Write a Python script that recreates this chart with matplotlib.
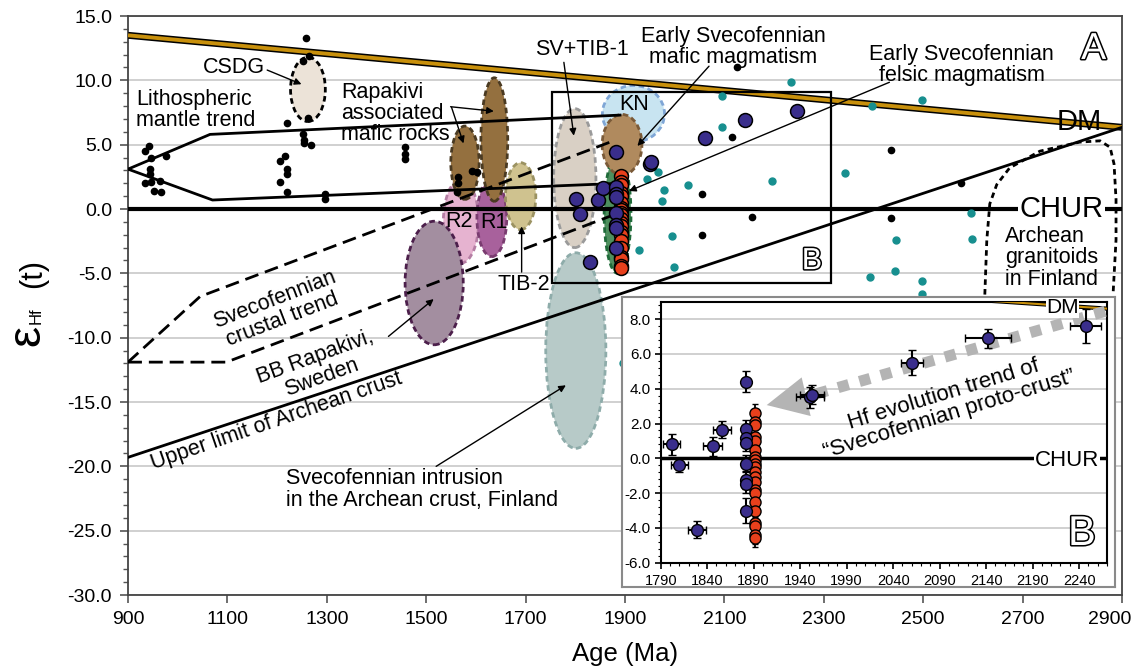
import matplotlib
matplotlib.use("Agg")
import matplotlib.pyplot as plt
import matplotlib.patheffects as pe
from matplotlib.patches import Ellipse, Polygon, Rectangle
from matplotlib.ticker import MultipleLocator, FormatStrFormatter
import numpy as np

plt.rcParams['font.family'] = ['Liberation Sans', 'DejaVu Sans']
plt.rcParams['axes.unicode_minus'] = False

# ---- reference evolution lines (age Ma, eHf) ----
dm_age = [900, 2900]
dm_eps = [13.5, 6.35]
chur_age = [900, 2900]
chur_eps = [0.0, 0.0]
archean_age = [900, 2900]
archean_eps = [-19.3, 6.35]
lith_upper_age = [900, 1065, 1890]
lith_upper_eps = [3.1, 5.8, 7.3]
lith_lower_age = [900, 1070, 1890]
lith_lower_eps = [3.1, 0.7, 2.0]
svf_upper_age = [900, 1045, 1870]
svf_upper_eps = [-11.9, -6.8, 5.2]
svf_lower_age = [900, 1098, 1874]
svf_lower_eps = [-11.9, -11.9, -0.5]
granitoid_age = [2624, 2628, 2634, 2648, 2674, 2735, 2815, 2856, 2876, 2884, 2888, 2888, 2882]
granitoid_eps = [-6.65, -2.4, 0.4, 1.9, 3.2, 4.5, 5.2, 5.3, 4.8, 3.5, 0.75, -2.4, -6.65]

# ---- fields (centre age, centre eHf, age span, eHf span) ----
field_names = ['KN', 'SV+TIB-1', 'Intrusion', 'R2', 'R1', 'TIB-2', 'BB', 'RapA', 'RapB',
               'ESfelsic', 'ESmafic', 'CSDG']
field_age = [1917, 1799, 1801, 1570, 1632, 1690, 1516, 1578, 1637, 1885, 1894, 1262]
field_eps = [7.4, 2.4, -11.0, -0.95, -0.7, 1.0, -5.75, 3.6, 5.4, -0.4, 5.0, 9.3]
field_w = [125, 85, 121, 71, 60, 61, 117, 57, 54, 54, 80, 70]
field_h = [4.4, 10.8, 15.2, 6.5, 6.0, 5.2, 9.6, 5.7, 9.6, 9.2, 4.7, 5.0]

# ---- scatter data ----
black_age = [942, 934, 946, 977, 944, 944, 934, 946, 965, 952, 967,
             1219, 1216, 1206, 1219, 1219, 1206, 1219,
             1259, 1253, 1265, 1263, 1253, 1255, 1255, 1269,
             1297, 1297, 1458, 1458, 1458,
             1564, 1564, 1562, 1592, 1602,
             2126, 2116, 2055, 2156, 2055, 2436, 2436, 2577]
black_eps = [4.9, 4.5, 4.0, 4.1, 3.1, 2.7, 2.0, 2.1, 2.2, 1.4, 1.3,
             6.7, 4.1, 3.7, 3.1, 2.7, 2.1, 1.3,
             13.3, 11.5, 11.9, 7.1, 5.8, 5.4, 5.1, 5.0,
             1.2, 0.8, 4.8, 4.3, 3.9,
             2.45, 2.05, 1.3, 2.95, 2.9,
             11.0, 5.6, 1.2, -0.6, -2.0, 4.6, -0.7, 2.0]
teal_age = [2235, 2096, 2096, 2396, 2497, 2342, 2196, 2597, 2599, 2446, 2444, 2392,
            2497, 2497, 1966, 1944, 1978, 1974, 2027, 1995, 1928, 1999, 1895]
teal_eps = [9.9, 8.8, 6.4, 8.0, 8.5, 2.8, 2.2, -0.3, -2.3, -2.4, -4.8, -5.3,
            -5.6, -6.6, 2.9, 2.3, 1.5, 0.6, 1.9, -2.1, -3.2, -4.5, -12.0]
navy_age = [1802, 1810, 1829, 1846, 1856, 1882, 1882, 1882, 1882, 1882, 1882, 1882, 1882,
            1951, 1953, 2060, 2142, 2247]
navy_eps = [0.8, -0.4, -4.1, 0.7, 1.65, 4.4, 1.7, 1.15, 0.9, -0.3, -1.25, -1.5, -3.0,
            3.5, 3.65, 5.5, 6.9, 7.6]
navy_xerr = [9, 9, 10, 10, 10, 3, 3, 3, 3, 3, 3, 3, 3, 15, 13, 12, 25, 17]
navy_yerr = [0.6, 0.4, 0.5, 0.55, 0.5, 0.6, 0.5, 0.5, 0.5, 0.5, 0.5, 0.5, 0.7,
             0.6, 0.55, 0.7, 0.55, 1.0]
red_eps = [2.6, 2.1, 1.9, 1.25, 1.0, 0.5, 0.1, -0.1, -0.3, -0.5, -0.8, -1.05, -1.35,
           -1.8, -2.0, -2.5, -3.0, -3.7, -3.9, -4.4, -4.6]
red_age = [1891] * len(red_eps)

# proto-crust trend arrow in inset (tail, tip, head corners)
trend_tail = (2268, 8.45)
trend_base = (1946.5, 3.54)
trend_head_age = [1904, 1941.6, 1951.3]
trend_head_eps = [3.06, 4.65, 2.43]

field_style = {
    'KN': ('#c8e4f1', '#7fa6d6'),
    'SV+TIB-1': ('#d9d0c5', '#9a9a9a'),
    'Intrusion': ('#b7cac8', '#8eacaa'),
    'R2': ('#e6b3d0', '#b57ea4'),
    'R1': ('#a8619c', '#7a3c70'),
    'TIB-2': ('#cfc28f', '#9b9262'),
    'BB': ('#a38ea0', '#4c1f4b'),
    'RapA': ('#94703f', '#4a3a22'),
    'RapB': ('#94703f', '#4a3a22'),
    'ESfelsic': ('#4e8f5e', '#1f6b3a'),
    'ESmafic': ('#b08a5e', '#7a5a38'),
    'CSDG': ('#ece3d8', '#000000'),
}

FS = 15.5
fig = plt.figure(figsize=(11.37, 6.70), dpi=100)
ax = fig.add_axes([0.1126, 0.1119, 0.8742, 0.8642])
ax.set_xlim(900, 2900)
ax.set_ylim(-30, 15)
xt = np.arange(900, 2901, 200)
ax.set_xticks(xt)
ax.set_xticklabels([str(v) for v in xt[:-1]] + [''])
ax.yaxis.set_major_locator(MultipleLocator(5))
ax.yaxis.set_minor_locator(MultipleLocator(1))
ax.yaxis.set_major_formatter(FormatStrFormatter('%.1f'))
ax.grid(axis='y', color='#c8c8c8', lw=1.2)
ax.set_axisbelow(True)
ax.tick_params(labelsize=14, length=5.5, width=1.2, color='#555555', pad=6)
ax.tick_params(which='minor', length=3.5, width=1.0, color='#555555')
for s in ax.spines.values():
    s.set_color('#444444')
    s.set_linewidth(1.3)
ax.set_xlabel('Age (Ma)', fontsize=18.5, labelpad=10)
# last tick label sits a little inside the figure edge
ax.annotate(str(xt[-1]), xy=(xt[-1], 0), xycoords=('data', 'axes fraction'),
            xytext=(-9, -11.5), textcoords='offset points', ha='center', va='top',
            fontsize=14, annotation_clip=False)

# fields
for n, a, e, w, h in zip(field_names, field_age, field_eps, field_w, field_h):
    fc, ec = field_style[n]
    ax.add_patch(Ellipse((a, e), w, h, facecolor=fc, edgecolor=ec, lw=2,
                         ls=(0, (2, 1.3)), zorder=2))

# lines
ax.plot(dm_age, dm_eps, color='black', lw=5, solid_capstyle='butt', zorder=3)
ax.plot(dm_age, dm_eps, color='#c8900c', lw=2.8, solid_capstyle='butt', zorder=3)
ax.plot(chur_age, chur_eps, color='black', lw=3, zorder=3)
ax.plot(archean_age, archean_eps, color='black', lw=2, zorder=3)
ax.plot(lith_upper_age, lith_upper_eps, color='black', lw=2, zorder=3)
ax.plot(lith_lower_age, lith_lower_eps, color='black', lw=2, zorder=3)
ax.plot(svf_upper_age, svf_upper_eps, color='black', lw=2, ls=(0, (5, 2.5)), zorder=3)
ax.plot(svf_lower_age, svf_lower_eps, color='black', lw=2, ls=(0, (5, 2.5)), zorder=3)
ax.plot(granitoid_age, granitoid_eps, color='black', lw=2, ls=(0, (2, 1.5)), zorder=3)

# box B
ax.add_patch(Rectangle((1753, -5.75), 2315 - 1753, 9.1 + 5.75, fill=False,
                       ec='black', lw=1.6, zorder=4))

# points
ax.plot(black_age, black_eps, 'o', ms=4.5, color='black', ls='none', zorder=5)
ax.plot(teal_age, teal_eps, 'o', ms=5, color='#178f8f', ls='none', zorder=5)
ax.plot(red_age, red_eps, 'o', ms=10, mfc='#e8401c', mec='black', mew=1.1, ls='none', zorder=6)
ax.plot(navy_age, navy_eps, 'o', ms=10, mfc='#3a2e8c', mec='black', mew=1.1, ls='none', zorder=7)

# labels and arrows
arr = dict(arrowstyle='-|>', color='black', lw=1, mutation_scale=10, shrinkA=0, shrinkB=0)
ax.text(1114, 11.0, 'CSDG', fontsize=FS, ha='center', va='center', zorder=8)
ax.annotate('', xy=(1249, 9.7), xytext=(1180, 10.8), arrowprops=arr, zorder=8)
ax.text(917, 7.7, 'Lithospheric\nmantle trend', fontsize=FS, ha='left', va='center',
        linespacing=1.0, zorder=8)
ax.text(1329, 7.45, 'Rapakivi\nassociated\nmafic rocks', fontsize=FS, ha='left',
        va='center', linespacing=1.0, zorder=8)
ax.annotate('', xy=(1636, 7.6), xytext=(1549, 7.95), arrowprops=arr, zorder=8)
ax.annotate('', xy=(1575, 5.1), xytext=(1551, 7.9), arrowprops=arr, zorder=8)
ax.text(1813, 12.4, 'SV+TIB-1', fontsize=FS, ha='center', va='center', zorder=8)
ax.annotate('', xy=(1797, 5.7), xytext=(1777, 11.4), arrowprops=arr, zorder=8)
ax.text(2118, 12.6, 'Early Svecofennian\nmafic magmatism', fontsize=FS, ha='center',
        va='center', linespacing=1.0, zorder=8)
ax.annotate('', xy=(1925, 4.9), xytext=(2069, 11.1), arrowprops=arr, zorder=8)
ax.text(2577, 11.2, 'Early Svecofennian\nfelsic magmatism', fontsize=FS, ha='center',
        va='center', linespacing=1.0, zorder=8)
ax.annotate('', xy=(1908, 1.4), xytext=(2432, 9.85), arrowprops=arr, zorder=8)
ax.text(1918, 8.1, 'KN', fontsize=FS, ha='center', va='center', zorder=8)
ax.text(1565, -1.0, 'R2', fontsize=FS, ha='center', va='center', zorder=8)
ax.text(1636, -1.05, 'R1', fontsize=FS, ha='center', va='center', zorder=8)
ax.text(1696, -5.9, 'TIB-2', fontsize=FS, ha='center', va='center', zorder=8)
ax.annotate('', xy=(1692, -1.35), xytext=(1692, -4.9), arrowprops=arr, zorder=8)
ax.text(1202, -7.8, 'Svecofennian\ncrustal trend', fontsize=FS, ha='center', va='center',
        rotation=21, rotation_mode='anchor', linespacing=1.0, zorder=8)
ax.text(1283, -12.3, 'BB Rapakivi,\nSweden', fontsize=FS, ha='center', va='center',
        rotation=20, rotation_mode='anchor', linespacing=1.0, zorder=8)
ax.annotate('', xy=(1515, -7.0), xytext=(1424, -9.9), arrowprops=arr, zorder=8)
ax.text(1198, -16.5, 'Upper limit of Archean crust', fontsize=FS, ha='center',
        va='center', rotation=19, rotation_mode='anchor', zorder=8)
ax.text(1217, -21.8, 'Svecofennian intrusion\nin the Archean crust, Finland', fontsize=FS,
        ha='left', va='center', linespacing=1.05, zorder=8)
ax.annotate('', xy=(1781, -13.7), xytext=(1520, -20.0), arrowprops=arr, zorder=8)
ax.text(2779, 0, 'CHUR', fontsize=21, ha='center', va='center', zorder=8,
        bbox=dict(boxstyle='square,pad=0.05', fc='white', ec='none'))
ax.text(2815, 6.8, 'DM', fontsize=21, ha='center', va='center', zorder=8)
ax.text(2664, -3.8, 'Archean\ngranitoids\nin Finland', fontsize=FS, ha='left',
        va='center', linespacing=1.05, zorder=8)
outline = [pe.withStroke(linewidth=2.2, foreground='black')]
ax.text(2843, 12.44, 'A', fontsize=27, ha='center', va='center', color='white',
        path_effects=outline, zorder=8)
ax.text(2276, -4.05, 'B', fontsize=22, ha='center', va='center', color='white',
        path_effects=outline, zorder=8)

# y label
fig.text(27.5 / 1137, 1 - 335 / 670, 'ε', rotation=90, fontsize=34, ha='center', va='center')
fig.text(36 / 1137, 1 - 316 / 670, 'Hf', rotation=90, fontsize=12, ha='center', va='center')
fig.text(33 / 1137, 1 - 273 / 670, '(t)', rotation=90, fontsize=22, ha='center', va='center')

# ---- inset B ----
frame = fig.add_axes([0.5471, 0.1239, 0.4336, 0.4328])
frame.set_xticks([])
frame.set_yticks([])
for s in frame.spines.values():
    s.set_color('#8a8a8a')
    s.set_linewidth(1.5)

axi = fig.add_axes([0.5811, 0.1601, 0.3925, 0.3896])
axi.set_xlim(1790, 2270)
axi.set_ylim(-6, 9)
axi.set_xticks(np.arange(1790, 2241, 50))
axi.set_yticks(np.arange(-6, 8.1, 2))
axi.xaxis.set_minor_locator(MultipleLocator(10))
axi.yaxis.set_minor_locator(MultipleLocator(0.4))
axi.yaxis.set_major_formatter(FormatStrFormatter('%.1f'))
axi.grid(axis='y', color='#c8c8c8', lw=1.2)
axi.set_axisbelow(True)
axi.tick_params(axis='y', labelsize=11, length=4, width=1.2, pad=3)
axi.tick_params(axis='x', labelsize=10.5, length=4, width=1.2, pad=4)
axi.tick_params(which='minor', length=2, width=0.8)
for s in axi.spines.values():
    s.set_color('black')
    s.set_linewidth(1.5)

axi.plot(dm_age, dm_eps, color='black', lw=3, solid_capstyle='butt', zorder=3)
axi.plot(dm_age, dm_eps, color='#c8900c', lw=1.5, solid_capstyle='butt', zorder=3)
axi.plot(chur_age, chur_eps, color='black', lw=2.5, zorder=3)

axi.plot([trend_tail[0], trend_base[0]], [trend_tail[1], trend_base[1]], color='#b4b4b4',
         lw=8, dashes=(1.0, 1.0), solid_capstyle='butt', zorder=4)
axi.add_patch(Polygon(np.column_stack([trend_head_age, trend_head_eps]), closed=True,
                      fc='#b4b4b4', ec='none', zorder=4))
axi.text(2097, 3.1, 'Hf evolution trend of\n\u201cSvecofennian proto-crust\u201d',
         fontsize=16, ha='center', va='center', rotation=17, rotation_mode='anchor',
         linespacing=1.0, zorder=8)

axi.errorbar(red_age, red_eps, xerr=3, yerr=0.5, fmt='o', ms=8, mfc='#e8401c', mec='black',
             mew=1.0, ecolor='black', elinewidth=1.3, capsize=2.5, zorder=5)
axi.errorbar(navy_age, navy_eps, xerr=navy_xerr, yerr=navy_yerr, fmt='o', ms=8.5,
             mfc='#3a2e8c', mec='black', mew=1.0, ecolor='black', elinewidth=1.5,
             capsize=3, zorder=6)

axi.text(2227, -0.1, 'CHUR', fontsize=16, ha='center', va='center', zorder=8,
         bbox=dict(boxstyle='square,pad=0.05', fc='white', ec='none'))
axi.text(2222, 8.64, 'DM', fontsize=15, ha='center', va='center', zorder=8, clip_on=False,
         bbox=dict(boxstyle='square,pad=0.02', fc='white', ec='none'))
axi.text(2243, -4.35, 'B', fontsize=30, ha='center', va='center', color='white',
         path_effects=outline, zorder=8)

fig.savefig('out.png', dpi=100)
